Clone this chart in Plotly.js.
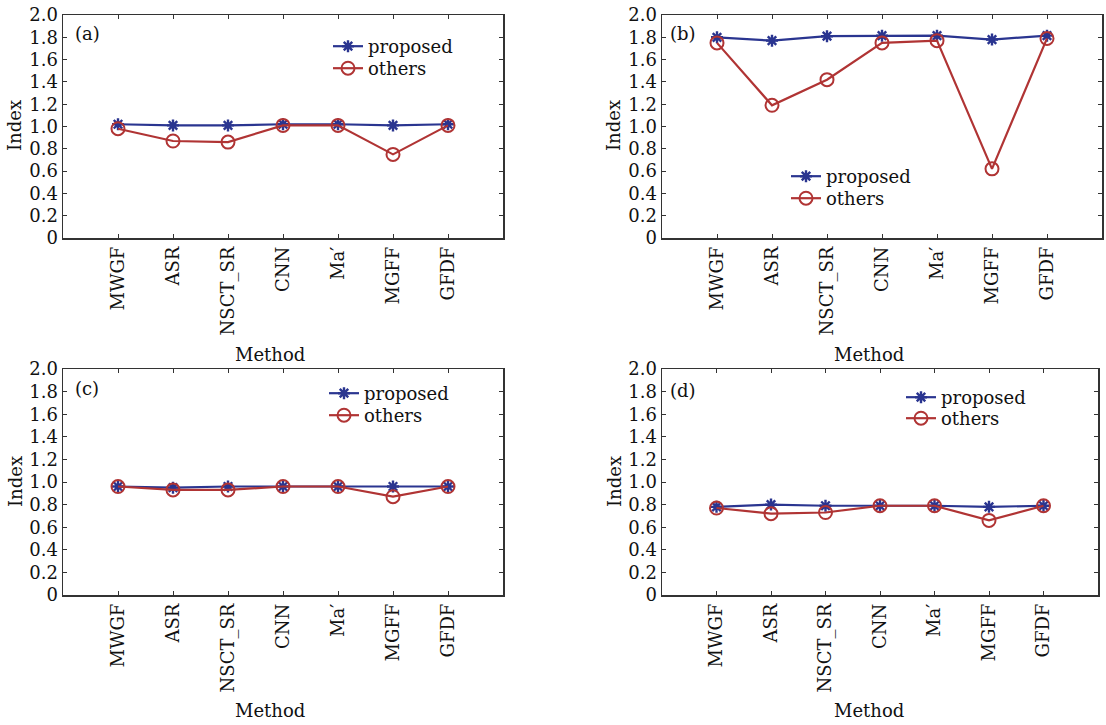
<!DOCTYPE html>
<html>
<head>
<meta charset="utf-8">
<script src="https://cdn.plot.ly/plotly-3.0.1.min.js"></script>
<style>html,body{margin:0;padding:0;background:#fff;}#chart{width:1106px;height:725px;}</style>
</head>
<body>
<div id="chart"></div>
<script>
// ---- data ----
const methods = ['MWGF', 'ASR', 'NSCT_SR', 'CNN', 'Ma\u2032', 'MGFF', 'GFDF'];
const panelLabels = ['(a)', '(b)', '(c)', '(d)'];
const proposedA = [1.02, 1.01, 1.01, 1.02, 1.02, 1.01, 1.02];
const othersA   = [0.98, 0.87, 0.86, 1.01, 1.01, 0.75, 1.01];
const proposedB = [1.80, 1.77, 1.81, 1.815, 1.815, 1.78, 1.815];
const othersB   = [1.75, 1.19, 1.42, 1.75, 1.77, 0.62, 1.79];
const proposedC = [0.96, 0.95, 0.96, 0.96, 0.96, 0.96, 0.96];
const othersC   = [0.96, 0.93, 0.93, 0.96, 0.96, 0.87, 0.96];
const proposedD = [0.78, 0.80, 0.79, 0.79, 0.79, 0.78, 0.79];
const othersD   = [0.77, 0.72, 0.73, 0.79, 0.79, 0.66, 0.79];
const yTicks = [0, 0.2, 0.4, 0.6, 0.8, 1.0, 1.2, 1.4, 1.6, 1.8, 2.0];
const yTickText = ['0', '0.2', '0.4', '0.6', '0.8', '1.0', '1.2', '1.4', '1.6', '1.8', '2.0'];

const W = 1106, H = 725;
const px = v => v / W;
const py = v => 1 - v / H;
const FONT = 'DejaVu Serif, Liberation Serif, serif';
const BLUE = '#2a3590';
const RED = '#b03434';

const panels = [
  {p: proposedA, o: othersA, x: [63, 503], y: [238, 15], legP: [328, 28], legO: [328, 50], lab: [73, 33], meth: [270, 354], idx: [15, 126]},
  {p: proposedB, o: othersB, x: [662, 1102], y: [238, 15], legP: [786, 158], legO: [786, 180], lab: [668, 33], meth: [869, 354], idx: [614, 126]},
  {p: proposedC, o: othersC, x: [63, 503], y: [595, 369], legP: [324, 375], legO: [324, 397], lab: [73, 388], meth: [270, 710], idx: [15, 482]},
  {p: proposedD, o: othersD, x: [662, 1098], y: [595, 369], legP: [901, 379], legO: [901, 400], lab: [668, 390], meth: [869, 710], idx: [614, 482]}
];

const data = [];
const layout = {
  width: W, height: H,
  margin: {l: 0, r: 0, t: 0, b: 0},
  paper_bgcolor: '#fff', plot_bgcolor: '#fff',
  font: {family: FONT, size: 18, color: '#111'},
  showlegend: true,
  annotations: []
};

function legendName(k) { return k === 0 ? 'legend' : 'legend' + (k + 1); }
function legendSpec(pos) {
  return {
    x: px(pos[0]), y: py(pos[1]), xanchor: 'left', yanchor: 'top',
    xref: 'paper', yref: 'paper',
    bgcolor: 'rgba(0,0,0,0)', borderwidth: 0, tracegroupgap: 0,
    font: {family: FONT, size: 18, color: '#111'}
  };
}

panels.forEach((pn, i) => {
  const n = i === 0 ? '' : String(i + 1);
  const lp = legendName(2 * i), lo = legendName(2 * i + 1);
  data.push({
    x: methods, y: pn.p, type: 'scatter', mode: 'lines+markers', name: 'proposed',
    xaxis: 'x' + n, yaxis: 'y' + n, legend: lp,
    line: {color: BLUE, width: 2.2},
    marker: {symbol: 'asterisk-open', size: 10, line: {color: BLUE, width: 2.4}}
  });
  data.push({
    x: methods, y: pn.o, type: 'scatter', mode: 'lines+markers', name: 'others',
    xaxis: 'x' + n, yaxis: 'y' + n, legend: lo,
    line: {color: RED, width: 2.2},
    marker: {symbol: 'circle-open', size: 13, color: RED, line: {color: RED, width: 2}}
  });
  layout['xaxis' + n] = {
    domain: [px(pn.x[0]), px(pn.x[1])], anchor: 'y' + n,
    type: 'category', range: [-1, 7],
    showline: true, linecolor: '#333', linewidth: 1.5, mirror: 'allticks',
    ticks: 'inside', ticklen: 4, tickcolor: '#333', tickangle: -90,
    showgrid: false, zeroline: false,
    tickfont: {family: FONT, size: 18, color: '#111'}
  };
  layout['yaxis' + n] = {
    domain: [py(pn.y[0]), py(pn.y[1])], anchor: 'x' + n,
    range: [0, 2], tickvals: yTicks, ticktext: yTickText,
    showline: true, linecolor: '#333', linewidth: 1.5, mirror: 'allticks',
    ticks: 'inside', ticklen: 4, tickcolor: '#333',
    showgrid: false, zeroline: false,
    tickfont: {family: FONT, size: 18, color: '#111'}
  };
  layout[lp] = legendSpec(pn.legP);
  layout[lo] = legendSpec(pn.legO);
  layout.annotations.push({
    text: panelLabels[i], xref: 'paper', yref: 'paper', x: px(pn.lab[0]), y: py(pn.lab[1]),
    xanchor: 'left', yanchor: 'middle', showarrow: false, font: {family: FONT, size: 18, color: '#111'}
  });
  layout.annotations.push({
    text: 'Method', xref: 'paper', yref: 'paper', x: px(pn.meth[0]), y: py(pn.meth[1]),
    xanchor: 'center', yanchor: 'middle', showarrow: false, font: {family: FONT, size: 18, color: '#111'}
  });
  layout.annotations.push({
    text: 'Index', xref: 'paper', yref: 'paper', x: px(pn.idx[0]), y: py(pn.idx[1]),
    xanchor: 'center', yanchor: 'middle', textangle: -90, showarrow: false, font: {family: FONT, size: 18, color: '#111'}
  });
});

Plotly.newPlot('chart', data, layout, {displayModeBar: false, staticPlot: true});
</script>
</body>
</html>
